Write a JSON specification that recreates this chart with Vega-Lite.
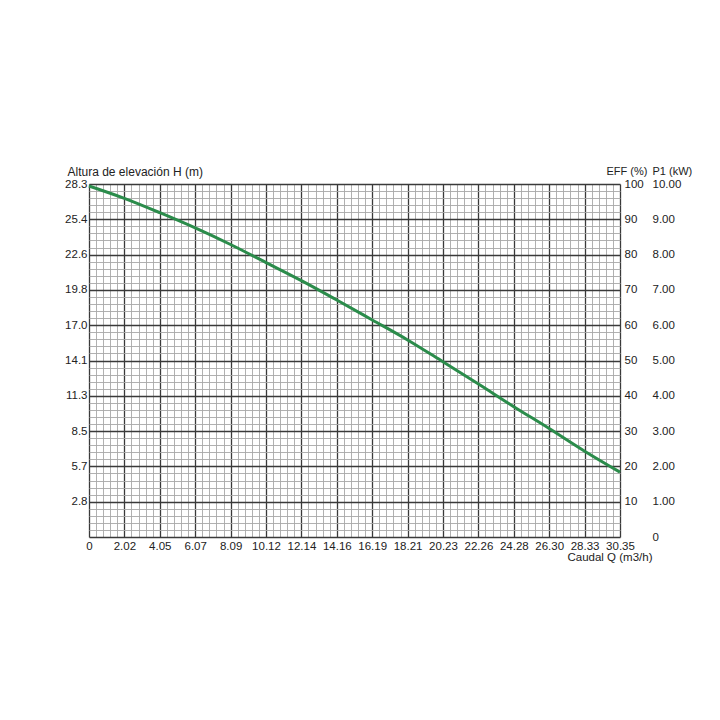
{
  "$schema": "https://vega.github.io/schema/vega-lite/v6.json",
  "autosize": "none",
  "width": 531,
  "height": 353,
  "padding": {"left": 89, "top": 184, "right": 100, "bottom": 183},
  "background": "white",
  "config": {
    "view": {"stroke": null},
    "font": "Liberation Sans",
    "axis": {
      "labelFont": "Liberation Sans",
      "titleFont": "Liberation Sans",
      "labelFontSize": 11.5,
      "titleFontSize": 12,
      "labelColor": "#222",
      "titleColor": "#222",
      "titleFontWeight": "normal",
      "ticks": false,
      "tickSize": 0,
      "domain": false,
      "labelOverlap": false,
      "labelFlush": false
    }
  },
  "layer": [
    {
      "data": {
        "values": [
          {"Q": 0, "H": 28.14},
          {"Q": 2.02, "H": 27.15},
          {"Q": 4.05, "H": 26.0},
          {"Q": 6.07, "H": 24.78},
          {"Q": 8.09, "H": 23.45},
          {"Q": 10.12, "H": 22.0},
          {"Q": 12.14, "H": 20.55},
          {"Q": 14.16, "H": 19.0},
          {"Q": 16.19, "H": 17.4},
          {"Q": 18.21, "H": 15.8},
          {"Q": 20.23, "H": 14.05},
          {"Q": 22.26, "H": 12.27},
          {"Q": 24.28, "H": 10.45},
          {"Q": 26.3, "H": 8.7},
          {"Q": 28.33, "H": 6.88},
          {"Q": 30.35, "H": 5.2}
        ]
      },
      "mark": {"type": "line", "color": "#2b8c4b", "strokeWidth": 3, "interpolate": "monotone"},
      "encoding": {
        "x": {
          "field": "Q",
          "type": "quantitative",
          "scale": {"domain": [0, 30.35], "nice": false, "zero": false},
          "axis": {
            "title": "Caudal Q (m3/h)",
            "titleFontSize": 11.5,
            "titleAngle": 0,
            "titleAlign": "right",
            "titleBaseline": "middle",
            "titleX": 563,
            "titleY": 20,
            "labelPadding": 3,
            "values": [0, 0.4047, 0.8093, 1.214, 1.6187, 2.0233, 2.428, 2.8327, 3.2373, 3.642, 4.0467, 4.4513, 4.856, 5.2607, 5.6653, 6.07, 6.4747, 6.8793, 7.284, 7.6887, 8.0933, 8.498, 8.9027, 9.3073, 9.712, 10.1167, 10.5213, 10.926, 11.3307, 11.7353, 12.14, 12.5447, 12.9493, 13.354, 13.7587, 14.1633, 14.568, 14.9727, 15.3773, 15.782, 16.1867, 16.5913, 16.996, 17.4007, 17.8053, 18.21, 18.6147, 19.0193, 19.424, 19.8287, 20.2333, 20.638, 21.0427, 21.4473, 21.852, 22.2567, 22.6613, 23.066, 23.4707, 23.8753, 24.28, 24.6847, 25.0893, 25.494, 25.8987, 26.3033, 26.708, 27.1127, 27.5173, 27.922, 28.3267, 28.7313, 29.136, 29.5407, 29.9453, 30.35],
            "labelExpr": "abs(datum.value / 2.023333 - round(datum.value / 2.023333)) < 0.01 ? (datum.value == 0 ? '0' : format(datum.value, '.2f')) : ''",
            "grid": true,
            "gridColor": {"condition": {"test": "abs(datum.value / 2.023333 - round(datum.value / 2.023333)) < 0.01", "value": "#3a3a3a"}, "value": "#a8a8a8"},
            "gridWidth": {"condition": {"test": "abs(datum.value / 2.023333 - round(datum.value / 2.023333)) < 0.01", "value": 1.3}, "value": 0.9}
          }
        },
        "y": {
          "field": "H",
          "type": "quantitative",
          "scale": {"domain": [0, 28.3], "nice": false, "zero": false},
          "axis": {
            "orient": "left",
            "title": "Altura de elevación H (m)",
            "titleAngle": 0,
            "titleAlign": "left",
            "titleBaseline": "middle",
            "titleX": -22,
            "titleY": -13,
            "labelPadding": 2,
            "values": [0, 0.566, 1.132, 1.698, 2.264, 2.83, 3.396, 3.962, 4.528, 5.094, 5.66, 6.226, 6.792, 7.358, 7.924, 8.49, 9.056, 9.622, 10.188, 10.754, 11.32, 11.886, 12.452, 13.018, 13.584, 14.15, 14.716, 15.282, 15.848, 16.414, 16.98, 17.546, 18.112, 18.678, 19.244, 19.81, 20.376, 20.942, 21.508, 22.074, 22.64, 23.206, 23.772, 24.338, 24.904, 25.47, 26.036, 26.602, 27.168, 27.734, 28.3],
            "labelExpr": "abs(datum.value / 2.83 - round(datum.value / 2.83)) < 0.01 ? ['', '2.8', '5.7', '8.5', '11.3', '14.1', '17.0', '19.8', '22.6', '25.4', '28.3'][round(datum.value / 2.83)] : ''",
            "grid": true,
            "gridColor": {"condition": {"test": "abs(datum.value / 2.83 - round(datum.value / 2.83)) < 0.01", "value": "#3a3a3a"}, "value": "#a8a8a8"},
            "gridWidth": {"condition": {"test": "abs(datum.value / 2.83 - round(datum.value / 2.83)) < 0.01", "value": 1.3}, "value": 0.9}
          }
        }
      }
    },
    {
      "data": {"values": []},
      "mark": {"type": "rule"},
      "encoding": {
        "y": {
          "field": "EFF",
          "type": "quantitative",
          "scale": {"domain": [0, 100], "nice": false},
          "axis": {
            "orient": "right",
            "title": "EFF (%)",
            "titleFontSize": 11,
            "titleAngle": 0,
            "titleAlign": "left",
            "titleBaseline": "middle",
            "titleX": -14,
            "titleY": -13,
            "labelPadding": 4,
            "grid": false,
            "values": [10, 20, 30, 40, 50, 60, 70, 80, 90, 100]
          }
        }
      }
    },
    {
      "data": {"values": []},
      "mark": {"type": "rule"},
      "encoding": {
        "y": {
          "field": "P1",
          "type": "quantitative",
          "scale": {"domain": [0, 10], "nice": false},
          "axis": {
            "orient": "right",
            "offset": 28,
            "title": "P1 (kW)",
            "titleFontSize": 11,
            "titleAngle": 0,
            "titleAlign": "left",
            "titleBaseline": "middle",
            "titleX": 4,
            "titleY": -13,
            "labelPadding": 4,
            "grid": false,
            "values": [0, 1, 2, 3, 4, 5, 6, 7, 8, 9, 10],
            "labelExpr": "datum.value == 0 ? '0' : format(datum.value, '.2f')"
          }
        }
      }
    }
  ],
  "resolve": {"scale": {"y": "independent"}, "axis": {"y": "independent"}}
}
